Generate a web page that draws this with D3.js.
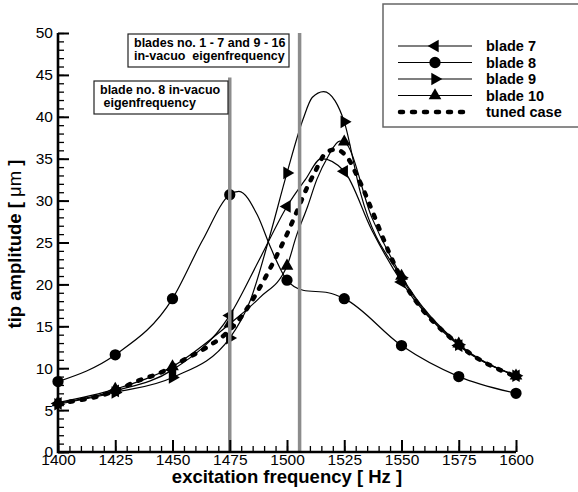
<!DOCTYPE html>
<html>
<head>
<meta charset="utf-8">
<script src="https://cdn.jsdelivr.net/npm/d3@7"></script>
<style>
  body { margin: 0; background: #fff; }
  svg { font-family: "Liberation Sans", Arial, Helvetica, sans-serif; }
</style>
</head>
<body>
<div id="chart"></div>
<script>
// tick values
var freqTicks = [1400, 1425, 1450, 1475, 1500, 1525, 1550, 1575, 1600];
var ampTicks = [0, 5, 10, 15, 20, 25, 30, 35, 40, 45, 50];

// blade 7 (left triangle)
var blade7F = [1400, 1425, 1450, 1475, 1488, 1500, 1508, 1515, 1525, 1537, 1550, 1575, 1600];
var blade7V = [5.8, 7.3, 9.8, 16.3, 23.0, 29.3, 32.5, 35.0, 33.5, 26.5, 20.3, 12.7, 9.1];

// blade 8 (circle)
var blade8F = [1400, 1425, 1450, 1463, 1475, 1479, 1487, 1493, 1500, 1507, 1518, 1525, 1550, 1575, 1600];
var blade8V = [8.4, 11.6, 18.3, 25.2, 30.7, 31.1, 28.3, 24.3, 20.5, 19.3, 19.0, 18.3, 12.7, 9.0, 7.0];

// blade 9 (right triangle)
var blade9F = [1400, 1425, 1450, 1475, 1484, 1492, 1500, 1507, 1511, 1516, 1521, 1525, 1532, 1550, 1575, 1600];
var blade9V = [5.7, 7.1, 8.9, 13.6, 18.1, 25.3, 33.3, 39.7, 42.3, 43.0, 41.9, 39.4, 31.0, 20.8, 12.8, 9.1];

// blade 10 (up triangle)
var blade10F = [1400, 1425, 1450, 1475, 1488, 1500, 1504, 1509, 1513, 1518, 1523, 1525, 1537, 1550, 1575, 1600];
var blade10V = [5.9, 7.5, 10.2, 15.3, 18.4, 22.2, 25.7, 29.3, 32.5, 35.3, 37.1, 37.0, 28.0, 21.0, 12.9, 9.1];

// tuned case (dashed, no symbols)
var tunedF = [1400, 1425, 1434, 1445, 1455, 1465, 1474, 1481, 1487, 1493, 1500, 1504, 1509, 1512, 1517, 1521, 1527, 1530, 1550, 1575, 1600];
var tunedV = [5.8, 7.3, 8.4, 9.5, 11.0, 12.5, 14.3, 16.5, 19.1, 22.1, 26.0, 28.5, 31.7, 33.3, 35.7, 36.1, 34.9, 33.3, 20.7, 12.8, 9.0];

// in-vacuo eigenfrequencies
var eigenF = [1475, 1505.5];
var eigenTop = [44.7, 50];

var width = 578;
var height = 492;

var svg = d3.select("#chart").append("svg")
  .attr("width", width)
  .attr("height", height);

var x = d3.scaleLinear().domain([1400, 1600]).range([58, 516]);
var y = d3.scaleLinear().domain([0, 50]).range([452, 33]);

function zip(f, v) {
  return f.map(function (d, i) { return { f: d, v: v[i] }; });
}

var series = [
  { name: "blade 7", data: zip(blade7F, blade7V), sym: "left" },
  { name: "blade 8", data: zip(blade8F, blade8V), sym: "circle" },
  { name: "blade 9", data: zip(blade9F, blade9V), sym: "right" },
  { name: "blade 10", data: zip(blade10F, blade10V), sym: "up" },
  { name: "tuned case", data: zip(tunedF, tunedV), sym: null }
];

var line = d3.line()
  .x(function (d) { return x(d.f); })
  .y(function (d) { return y(d.v); })
  .curve(d3.curveMonotoneX);

function symPath(s) {
  if (s === "circle") return d3.symbol().type(d3.symbolCircle).size(100)();
  return d3.symbol().type(d3.symbolTriangle).size(70)();
}
function symRot(s) {
  if (s === "left") return -90;
  if (s === "right") return 90;
  return 0;
}

// minor ticks
svg.append("g")
  .attr("transform", "translate(0,452)")
  .call(d3.axisBottom(x).tickValues(d3.range(1400, 1601, 5)).tickSize(-6).tickFormat(""))
  .call(function (g) {
    g.select(".domain").remove();
    g.selectAll("line").attr("stroke-width", 1.3);
  });
svg.append("g")
  .attr("transform", "translate(58,0)")
  .call(d3.axisLeft(y).tickValues(d3.range(0, 51, 1)).tickSize(-6).tickFormat(""))
  .call(function (g) {
    g.select(".domain").remove();
    g.selectAll("line").attr("stroke-width", 1.3);
  });

// curves
var lines = svg.append("g");
series.forEach(function (s) {
  lines.append("path")
    .datum(s.data)
    .attr("d", line)
    .attr("fill", "none")
    .attr("stroke", "#000")
    .attr("stroke-width", s.sym ? 1.2 : 4.5)
    .attr("stroke-dasharray", s.sym ? null : "3,9")
    .attr("stroke-linecap", s.sym ? "butt" : "round");
  if (s.sym) {
    lines.selectAll(null)
      .data(s.data.filter(function (d) { return d.f % 25 === 0; }))
      .enter().append("path")
      .attr("d", symPath(s.sym))
      .attr("transform", function (d) {
        return "translate(" + x(d.f) + "," + y(d.v) + ") rotate(" + symRot(s.sym) + ")";
      })
      .attr("fill", "#000");
  }
});

// eigenfrequency lines
svg.selectAll(".eig")
  .data(eigenF)
  .enter().append("line")
  .attr("x1", function (d) { return x(d); })
  .attr("x2", function (d) { return x(d); })
  .attr("y1", function (d, i) { return y(eigenTop[i]); })
  .attr("y2", y(0))
  .attr("stroke", "#8c8c8c")
  .attr("stroke-width", 3.5);

// axes
var xAxis = svg.append("g")
  .attr("transform", "translate(0,452)")
  .call(d3.axisBottom(x).tickValues(freqTicks).tickSize(-12).tickPadding(2).tickFormat(d3.format("d")));
var yAxis = svg.append("g")
  .attr("transform", "translate(58,0)")
  .call(d3.axisLeft(y).tickValues(ampTicks).tickSize(-11).tickPadding(5).tickFormat(d3.format("d")));
[xAxis, yAxis].forEach(function (g) {
  g.select(".domain").remove();
  g.selectAll("line").attr("stroke-width", 2);
  g.selectAll("text").attr("font-size", 15.5).attr("font-family", "Liberation Sans, Arial, sans-serif").attr("fill", "#000");
});
svg.append("path")
  .attr("d", "M" + x(1400) + "," + y(50) + "V" + y(0) + "H" + x(1600))
  .attr("fill", "none")
  .attr("stroke", "#000")
  .attr("stroke-width", 2.6);

// axis titles
svg.append("text")
  .attr("x", 287)
  .attr("y", 483)
  .attr("text-anchor", "middle")
  .attr("font-weight", "bold")
  .attr("font-size", 18.5)
  .text("excitation frequency [ Hz ]");

var yt = svg.append("text")
  .attr("transform", "translate(21,244) rotate(-90)")
  .attr("text-anchor", "middle")
  .attr("font-weight", "bold")
  .attr("font-size", 18.5);
yt.append("tspan").text("tip amplitude [ ");
yt.append("tspan").attr("font-weight", "normal").text("\u03bcm");
yt.append("tspan").text(" ]");

// annotation boxes
function note(bx, by, bw, bh, rows, tx) {
  svg.append("rect")
    .attr("x", bx).attr("y", by).attr("width", bw).attr("height", bh)
    .attr("fill", "#fff").attr("stroke", "#222").attr("stroke-width", 1.2);
  rows.forEach(function (t, i) {
    svg.append("text")
      .attr("x", tx[i]).attr("y", by + 13 + i * 13)
      .attr("font-size", 12.5).attr("font-weight", "bold")
      .style("white-space", "pre")
      .text(t);
  });
}
note(128, 34, 161, 33, ["blades no. 1 - 7 and 9 - 16", "in-vacuo  eigenfrequency"], [134, 134]);
note(94, 81, 134, 33, ["blade no. 8 in-vacuo", " eigenfrequency"], [100, 100]);

// legend
var legend = svg.append("g");
legend.append("rect")
  .attr("x", 383).attr("y", 4).attr("width", 200).attr("height", 123)
  .attr("fill", "#fff").attr("stroke", "#666").attr("stroke-width", 1.5);
series.forEach(function (s, i) {
  var ly = 46 + i * 16.5;
  legend.append("line")
    .attr("x1", s.sym ? 398 : 400).attr("x2", s.sym ? 472 : 470)
    .attr("y1", ly).attr("y2", ly)
    .attr("stroke", "#000")
    .attr("stroke-width", s.sym ? 1.2 : 4.5)
    .attr("stroke-dasharray", s.sym ? null : "3,9")
    .attr("stroke-linecap", s.sym ? "butt" : "round");
  if (s.sym) {
    legend.append("path")
      .attr("d", symPath(s.sym))
      .attr("transform", "translate(435," + ly + ") rotate(" + symRot(s.sym) + ")")
      .attr("fill", "#000");
  }
  legend.append("text")
    .attr("x", 486).attr("y", ly + 5)
    .attr("font-size", 14.5).attr("font-weight", "bold")
    .text(s.name);
});
</script>
</body>
</html>
